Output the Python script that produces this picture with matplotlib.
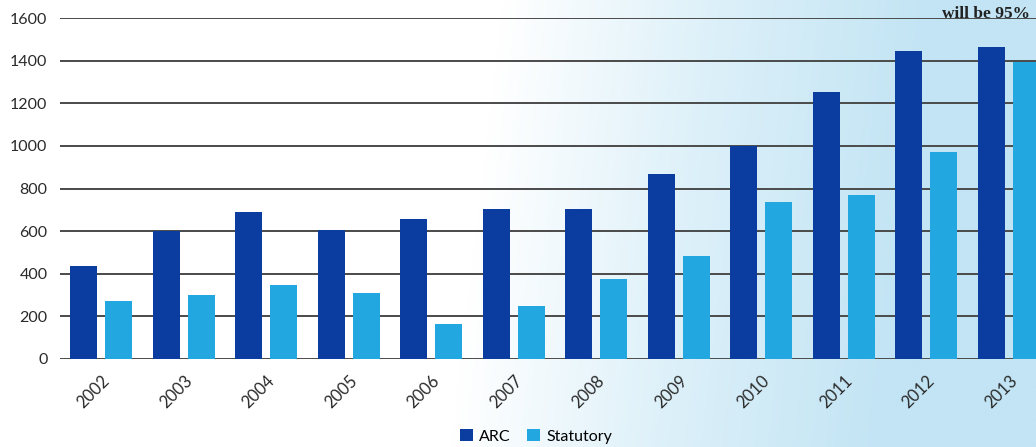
import numpy as np
import matplotlib
matplotlib.use("Agg")
import matplotlib.pyplot as plt
from matplotlib.colors import LinearSegmentedColormap

years = ["2002", "2003", "2004", "2005", "2006", "2007",
         "2008", "2009", "2010", "2011", "2012", "2013"]
arc = [436, 600, 690, 605, 657, 704, 704, 868, 1000, 1253, 1445, 1464]
statutory = [272, 300, 347, 310, 164, 249, 375, 483, 737, 770, 971, 1394]
yticks = [0, 200, 400, 600, 800, 1000, 1200, 1400, 1600]

plt.rcParams['font.family'] = ['Lato', 'DejaVu Sans']

fig = plt.figure(figsize=(10.36, 4.47), dpi=100)

# white-to-pale-blue background wash across the figure
bg = fig.add_axes([0, 0, 1, 1], zorder=-10)
bg.axis('off')
xs = np.linspace(0, 1, 400)
ys = np.linspace(0, 1, 200)
X, Y = np.meshgrid(xs, ys)
t = np.clip((X - 0.46) / 0.42 + (Y - 0.5) * 0.12, 0, 1)
cmap = LinearSegmentedColormap.from_list("wash", ["#ffffff", "#dcf0f9", "#c2e4f4"])
bg.imshow(t, cmap=cmap, aspect='auto', extent=[0, 1, 0, 1], origin='upper')
bg.set_xlim(0, 1)
bg.set_ylim(0, 1)

ax = fig.add_axes([60 / 1036, 1 - 359 / 447, 1 - 60 / 1036, (359 - 18) / 447])
ax.patch.set_alpha(0)

x = np.arange(len(years))
w = 0.33
off = 0.212
ax.bar(x - off, arc, width=w, color="#0b3ca0", label="ARC", zorder=3)
ax.bar(x + off, statutory, width=w, color="#22a7e0", label="Statutory", zorder=3)

ax.set_ylim(0, 1600)
ax.set_xlim(-0.5, 11.33)
ax.set_yticks(yticks)
ax.set_yticklabels([str(v) for v in yticks], fontsize=11.5, color="#2a2a2a")
ax.set_xticks(x)
ax.set_xticklabels(years, rotation=45, ha='right', rotation_mode='anchor',
                   fontsize=12, color="#2a2a2a")
ax.tick_params(length=0, pad=9)
ax.tick_params(axis='x', pad=10)
ax.grid(axis='y', color="#4a4a4a", linewidth=1.4, zorder=1)
for s in ax.spines.values():
    s.set_visible(False)

fig.text(0.994, 0.968, "will be 95%", ha='right', va='center',
         fontsize=12.5, fontweight='bold', family='Liberation Serif', color="#222222")

fig.legend(loc='center', bbox_to_anchor=(536 / 1036, 0.024), ncol=2,
           frameon=False, fontsize=11.5, handlelength=0.8, handleheight=0.8,
           handletextpad=0.4, columnspacing=1.0)

fig.savefig("out.png", dpi=100)
